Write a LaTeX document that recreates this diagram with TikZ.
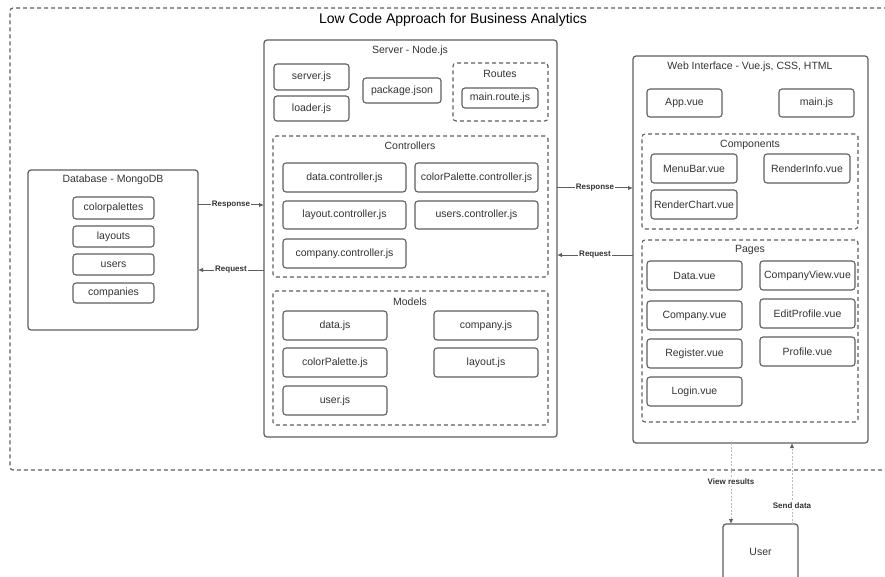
\documentclass[tikz,border=0pt]{standalone}
\usepackage{fontspec}
\setmainfont{Liberation Sans}
\usetikzlibrary{arrows.meta}
\definecolor{ln}{HTML}{5E5E5E}
\definecolor{tx}{HTML}{333333}
\tikzset{
 item/.style={draw=ln, line width=1.1pt, rounded corners=3pt, inner sep=0pt, outer sep=0pt, font=\fontsize{10.5}{12}\selectfont, text=tx},
 group/.style={draw=ln, line width=1.1pt, dash pattern=on 4pt off 3pt, rounded corners=3pt, inner sep=0pt, outer sep=0pt},
 panel/.style={draw=ln, line width=1.2pt, rounded corners=3pt, inner sep=0pt, outer sep=0pt, font=\fontsize{10.5}{12}\selectfont, text=tx},
 ttl/.style={font=\fontsize{10.5}{12}\selectfont, text=tx, inner sep=0pt},
 flow/.style={draw=ln, line width=1pt, -{Latex[length=5pt,width=4.5pt]}},
 flab/.style={font=\bfseries\fontsize{8}{9}\selectfont, text=tx, fill=white, inner sep=1pt},
 usr/.style={draw=gray!55, line width=1pt, dash pattern=on 2pt off 1.5pt, -{Latex[length=5pt,width=4.5pt,color=ln]}}
}
\newcommand\rbox[7][item]{\node[#1,minimum width={(#5)-(#3)}, minimum height={(#6)-(#4)}] (#2) at ({((#3)+(#5))/2},{((#4)+(#6))/2}) {#7};}
\begin{document}
\begin{tikzpicture}[x=1pt,y=-1pt]
\useasboundingbox (0,0) rectangle (885,577);
\clip (0,0) rectangle (885,577);
% outer
\rbox[group, line width=1.2pt]{outer}{10}{8}{905}{470}{}
\node[font=\fontsize{14}{16}\selectfont, text=black, inner sep=0pt] (title) at (453,20) {Low Code Approach for Business Analytics};
% database
\rbox[panel]{db}{28}{170}{198}{330}{}
\node[ttl] (dbt) at (113,180) {Database - MongoDB};
\rbox{cp}{73}{197}{154}{219}{colorpalettes}
\rbox{lay}{73}{226}{154}{247}{layouts}
\rbox{us}{73}{254}{154}{275}{users}
\rbox{comp}{73}{283}{154}{303}{companies}
% server
\rbox[panel]{srv}{264}{40}{557}{437}{}
\node[ttl] (srvt) at (410,51) {Server - Node.js};
\rbox{serverjs}{274}{64}{349}{90}{server.js}
\rbox{loaderjs}{274}{96}{349}{121}{loader.js}
\rbox{pkg}{363}{78}{441}{103}{package.json}
\rbox[group]{routes}{453}{63}{548}{121}{}
\node[ttl] (routest) at (500,74) {Routes};
\rbox{mainroute}{462}{88}{538}{108}{main.route.js}
\rbox[group]{ctrl}{273}{136}{548}{277}{}
\node[ttl] (ctrlt) at (410,146) {Controllers};
\rbox{dctrl}{283}{163}{406}{192}{data.controller.js}
\rbox{cpctrl}{415}{163}{538}{192}{colorPalette.controller.js}
\rbox{lctrl}{283}{201}{406}{229}{layout.controller.js}
\rbox{uctrl}{415}{201}{538}{229}{users.controller.js}
\rbox{cctrl}{283}{239}{406}{268}{company.controller.js}
\rbox[group]{models}{273}{291}{548}{425}{}
\node[ttl] (modelst) at (410,302) {Models};
\rbox{datajs}{283}{311}{387}{340}{data.js}
\rbox{companyjs}{434}{311}{538}{340}{company.js}
\rbox{cpjs}{283}{348}{387}{377}{colorPalette.js}
\rbox{layoutjs}{434}{348}{538}{377}{layout.js}
\rbox{userjs}{283}{386}{387}{415}{user.js}
% web
\rbox[panel]{web}{633}{56}{868}{443}{}
\node[ttl] (webt) at (750,67) {Web Interface - Vue.js, CSS, HTML};
\rbox{appvue}{647}{89}{722}{117}{App.vue}
\rbox{mainjs}{779}{89}{854}{117}{main.js}
\rbox[group]{compo}{642}{134}{858}{229}{}
\node[ttl] (compot) at (750,145) {Components};
\rbox{menubar}{651}{154}{737}{183}{MenuBar.vue}
\rbox{renderinfo}{764}{154}{850}{183}{RenderInfo.vue}
\rbox{renderchart}{651}{190}{737}{219}{RenderChart.vue}
\rbox[group]{pages}{642}{240}{858}{422}{}
\node[ttl] (pagest) at (750,250) {Pages};
\rbox{datavue}{647}{261}{742}{290}{Data.vue}
\rbox{cviewvue}{760}{261}{855}{290}{CompanyView.vue}
\rbox{companyvue}{647}{301}{742}{330}{Company.vue}
\rbox{editvue}{760}{299}{855}{328}{EditProfile.vue}
\rbox{registervue}{647}{339}{742}{368}{Register.vue}
\rbox{profilevue}{760}{337}{855}{366}{Profile.vue}
\rbox{loginvue}{647}{377}{742}{406}{Login.vue}
% user
\rbox[panel]{user}{723}{524}{798}{580}{User}
% connectors
\draw[flow] (db.east |- 0,205) -- (srv.west |- 0,205) node[midway, flab] (l1) {Response};
\draw[flow] (srv.west |- 0,270) -- (db.east |- 0,270) node[midway, flab] (l2) {Request};
\draw[flow] (srv.east |- 0,188) -- (web.west |- 0,188) node[midway, flab] (l3) {Response};
\draw[flow] (web.west |- 0,255) -- (srv.east |- 0,255) node[midway, flab] (l4) {Request};
\draw[usr] (731,0 |- web.south) -- (731,0 |- user.north) node[pos=0.48, flab] (l5) {View results};
\draw[usr] (792,0 |- user.north) -- (792,0 |- web.south) node[pos=0.23, flab] (l6) {Send data};
\end{tikzpicture}
\end{document}
